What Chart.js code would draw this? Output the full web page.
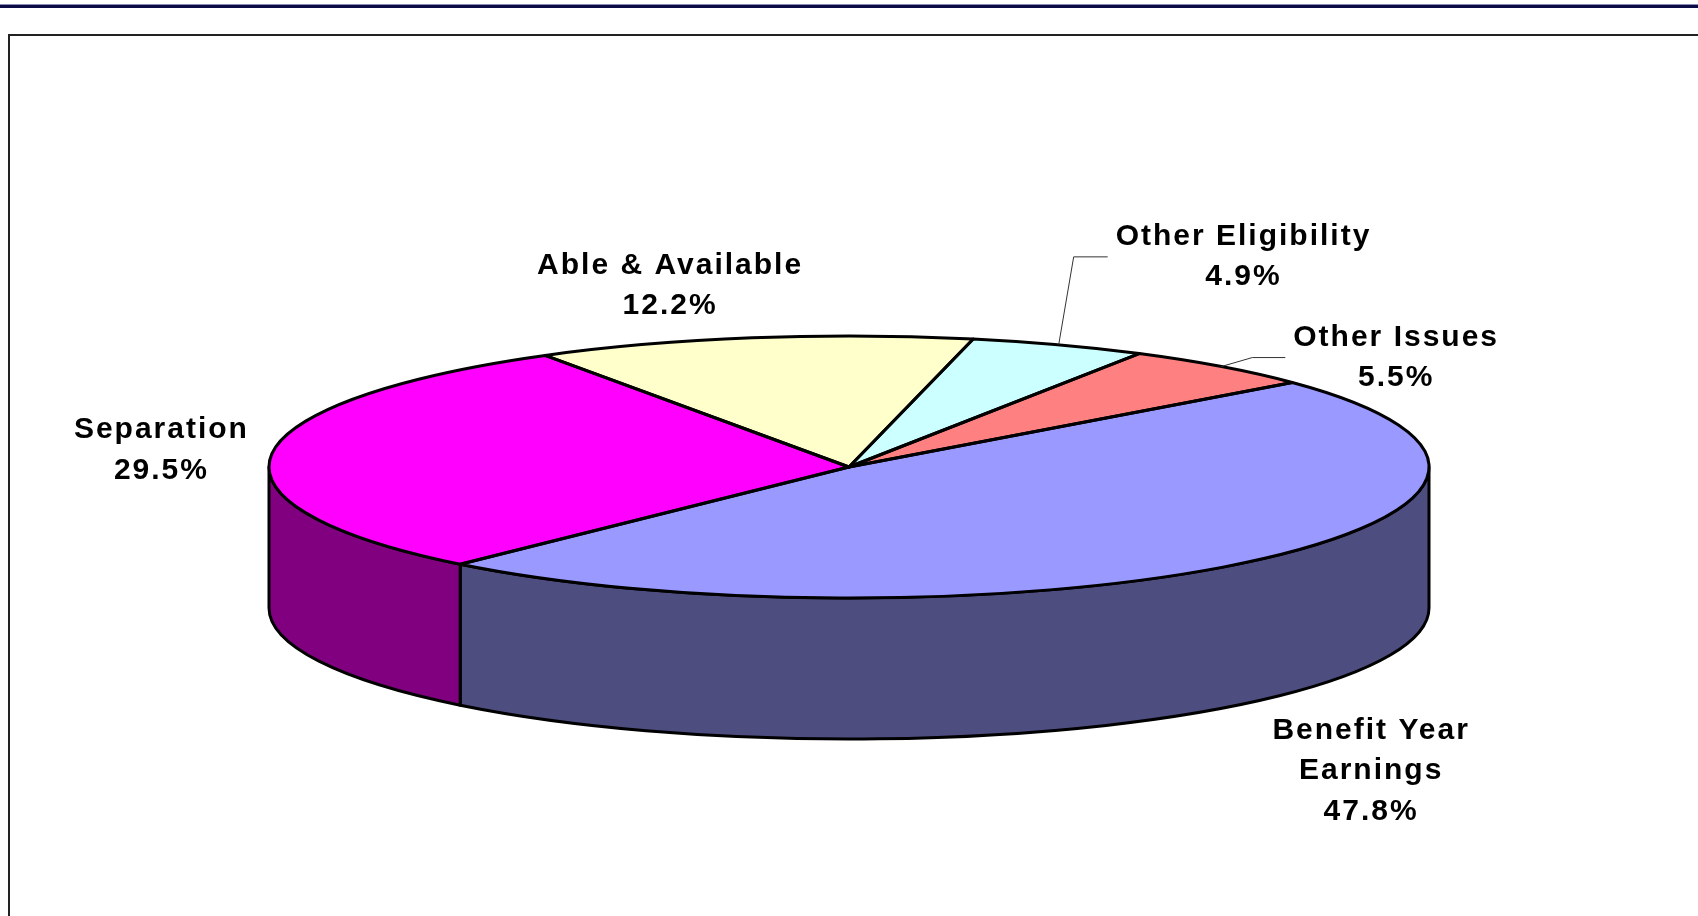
<!DOCTYPE html>
<html>
<head>
<meta charset="utf-8">
<script src="https://cdn.jsdelivr.net/npm/chart.js@4.4.0/dist/chart.umd.min.js"></script>
<style>
    html, body { margin: 0; padding: 0; background: #fff; overflow: hidden; }
    #topRule { position: absolute; left: 0; top: 4px; width: 1698px; height: 3px; background: #0b0b45; border-top: 1px solid #8a8ab0; }
    #frame { position: absolute; left: 8px; top: 34px; width: 1800px; height: 1000px; border: 2px solid #222; }
    #wrap { position: absolute; left: 0; top: 0; width: 1698px; height: 916px; }
</style>
</head>
<body>
<div id="topRule"></div>
<div id="frame"></div>
<div id="wrap"><canvas id="pieChart" width="1698" height="916"></canvas></div>
<script>
// Slices, clockwise from the Able & Available edge
const categories = ["Able & Available", "Other Eligibility", "Other Issues", "Benefit Year Earnings", "Separation"];
const shares = [12.2, 4.9, 5.5, 47.8, 29.5];
const topColours = ["#FFFFCC", "#CCFFFF", "#FF8080", "#9999FF", "#FF00FF"];

// 3D look: flattened ellipse plus a wall underneath
const RX = 580, RY = 131, DEPTH = 141;
const FONT = "bold 30px 'Liberation Sans', Arial, sans-serif";
const LINE_H = 40.5;

// Where each label sits relative to the slice's mid point on the rim
const labelPlacement = [
    { dx: -82, dy: -52 },
    { leader: [15, -88, 34] },
    { leader: [31, -9, 33] },
    { dx: 119, dy: 210 },
    { dx: -110, dy: -5 }
];

function darken(hex, f) {
    const n = parseInt(hex.slice(1), 16);
    const r = Math.round(((n >> 16) & 255) * f);
    const g = Math.round(((n >> 8) & 255) * f);
    const b = Math.round((n & 255) * f);
    return "rgb(" + r + "," + g + "," + b + ")";
}
const sideColours = topColours.map(c => darken(c, 0.5));

// Parts of an angle range that face the viewer (lower half of the ellipse)
function frontRanges(a0, a1) {
    const out = [];
    for (let k = -2; k <= 2; k++) {
        const s = Math.max(a0, 2 * Math.PI * k);
        const e = Math.min(a1, 2 * Math.PI * k + Math.PI);
        if (e > s) out.push([s, e]);
    }
    return out;
}

function wrapText(ctx, text, maxW) {
    const words = text.split(" ");
    const lines = [];
    let cur = "";
    words.forEach(w => {
        const test = cur ? cur + " " + w : w;
        if (cur && ctx.measureText(test).width > maxW) {
            lines.push(cur);
            cur = w;
        } else {
            cur = test;
        }
    });
    if (cur) lines.push(cur);
    return lines;
}

const pie3d = {
    id: "pie3d",
    beforeDatasetsDraw(chart) {
        const ctx = chart.ctx;
        const arcs = chart.getDatasetMeta(0).data;
        const cx = arcs[0].x, cy = arcs[0].y, r = arcs[0].outerRadius;

        // side walls
        ctx.save();
        ctx.lineWidth = 3;
        ctx.strokeStyle = "#000";
        ctx.lineJoin = "round";
        arcs.forEach((arc, i) => {
            frontRanges(arc.startAngle, arc.endAngle).forEach(([s, e]) => {
                ctx.beginPath();
                ctx.ellipse(cx, cy, RX, RY, 0, s, e);
                ctx.lineTo(cx + RX * Math.cos(e), cy + DEPTH + RY * Math.sin(e));
                ctx.ellipse(cx, cy + DEPTH, RX, RY, 0, e, s, true);
                ctx.closePath();
                ctx.fillStyle = sideColours[i];
                ctx.fill();
                ctx.stroke();
            });
        });
        ctx.restore();

        // squash the pie the library draws into the top face
        ctx.save();
        ctx.translate(cx, cy);
        ctx.scale(RX / r, RY / r);
        ctx.translate(-cx, -cy);
    },
    afterDatasetsDraw(chart) {
        const ctx = chart.ctx;
        ctx.restore();

        const arcs = chart.getDatasetMeta(0).data;
        const cx = arcs[0].x, cy = arcs[0].y;

        // outlines of the top face
        ctx.save();
        ctx.lineWidth = 3;
        ctx.strokeStyle = "#000";
        ctx.lineJoin = "round";
        arcs.forEach(arc => {
            ctx.beginPath();
            ctx.moveTo(cx, cy);
            ctx.ellipse(cx, cy, RX, RY, 0, arc.startAngle, arc.endAngle);
            ctx.closePath();
            ctx.stroke();
        });
        ctx.restore();

        // labels
        ctx.save();
        ctx.font = FONT;
        ctx.letterSpacing = "2px";
        ctx.fillStyle = "#000";
        ctx.textAlign = "center";
        ctx.textBaseline = "middle";
        arcs.forEach((arc, i) => {
            const mid = (arc.startAngle + arc.endAngle) / 2;
            const ax = cx + RX * Math.cos(mid);
            const ay = cy + RY * Math.sin(mid);
            const lines = wrapText(ctx, categories[i], 300);
            lines.push(shares[i].toFixed(1) + "%");
            const p = labelPlacement[i];
            let bx, by;
            if (p.leader) {
                const [ex, ey, run] = p.leader;
                const kx = ax + ex, ky = ay + ey;
                ctx.save();
                ctx.strokeStyle = "#333";
                ctx.lineWidth = 1;
                ctx.beginPath();
                ctx.moveTo(ax, ay);
                ctx.lineTo(kx, ky);
                ctx.lineTo(kx + run, ky);
                ctx.stroke();
                ctx.restore();
                const w = Math.max(...lines.map(l => ctx.measureText(l).width));
                bx = kx + run + 8 + w / 2;
                by = ky;
            } else {
                bx = ax + p.dx;
                by = ay + p.dy;
            }
            const top = by - (lines.length - 1) * LINE_H / 2;
            lines.forEach((l, j) => ctx.fillText(l, bx, top + j * LINE_H));
        });
        ctx.restore();
    }
};

new Chart(document.getElementById("pieChart"), {
    type: "pie",
    data: {
        labels: categories,
        datasets: [{
            data: shares,
            backgroundColor: topColours,
            borderWidth: 0,
            clip: false
        }]
    },
    options: {
        responsive: false,
        animation: false,
        devicePixelRatio: 1,
        rotation: -31.6,
        layout: { padding: { top: 18, bottom: 0, left: 0, right: 0 } },
        events: [],
        plugins: {
            legend: { display: false },
            tooltip: { enabled: false }
        }
    },
    plugins: [pie3d]
});
</script>
</body>
</html>
